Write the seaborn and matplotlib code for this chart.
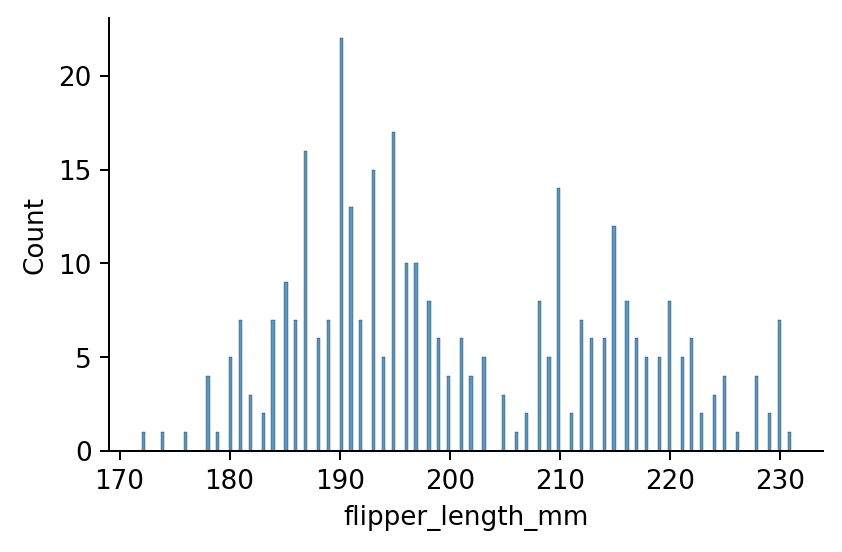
import numpy as np
import pandas as pd
import matplotlib
matplotlib.use("Agg")
import matplotlib.pyplot as plt
import seaborn as sns

# flipper lengths (mm) and how many penguins have each
flipper_length = [172, 174, 176, 178, 179, 180, 181, 182, 183, 184, 185, 186, 187, 188, 189,
                  190, 191, 192, 193, 194, 195, 196, 197, 198, 199, 200, 201, 202, 203,
                  205, 206, 207, 208, 209, 210, 211, 212, 213, 214, 215, 216, 217, 218, 219,
                  220, 221, 222, 223, 224, 225, 226, 228, 229, 230, 231]
counts = [1, 1, 1, 4, 1, 5, 7, 3, 2, 7, 9, 7, 16, 6, 7,
          22, 13, 7, 15, 5, 17, 10, 10, 8, 6, 4, 6, 4, 5,
          3, 1, 2, 8, 5, 14, 2, 7, 6, 6, 12, 8, 6, 5, 5,
          8, 5, 6, 2, 3, 4, 1, 4, 2, 7, 1]

df = pd.DataFrame({"flipper_length_mm": flipper_length, "n": counts})

plt.rcParams["font.size"] = 10.5

fig, ax = plt.subplots(figsize=(4.68, 3.07), dpi=180)
sns.histplot(data=df, x="flipper_length_mm", weights="n", bins=200, ax=ax)
sns.despine()
ax.set_ylabel("Count")
fig.subplots_adjust(left=0.1295, right=0.9774, bottom=0.183, top=0.967)
fig.savefig("out.png", dpi=180)
